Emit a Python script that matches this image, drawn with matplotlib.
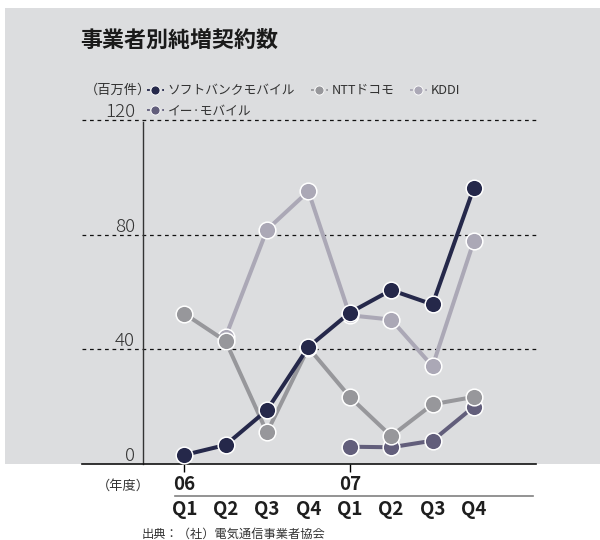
import numpy as np
import matplotlib
matplotlib.use("Agg")
import matplotlib.pyplot as plt
from matplotlib.patches import Rectangle
from matplotlib.lines import Line2D
import matplotlib.transforms as mtransforms

plt.rcParams['font.family'] = ['Noto Sans CJK JP', 'DejaVu Sans']

# ---- data (net subscriber additions per quarter) ----
quarters = ["Q1", "Q2", "Q3", "Q4", "Q1", "Q2", "Q3", "Q4"]
years = ["06", "07"]
year_start = [0, 4]
yticks = [0, 40, 80, 120]

series_names = ["ソフトバンクモバイル", "NTTドコモ", "KDDI", "イー·モバイル"]
softbank = [3.0, 6.5, 18.7, 40.7, 52.7, 60.6, 55.6, 96.4]
docomo = [52.4, 42.8, 10.9, 40.5, 23.3, 9.6, 20.7, 23.3]
kddi = [np.nan, 44.3, 81.7, 95.1, 51.8, 50.3, 34.0, 77.8]
emobile = [np.nan, np.nan, np.nan, np.nan, 5.9, 5.7, 8.0, 19.9]

colors = {
    "softbank": "#25284a",
    "docomo": "#97979b",
    "kddi": "#aba8b6",
    "emobile": "#625e7b",
}

W, H = 600, 540
fig = plt.figure(figsize=(W / 100, H / 100), dpi=100)
fig.patch.set_facecolor("white")


def fx(px):
    return px / W


def fy(py):
    return 1 - py / H


# grey backdrop panel
fig.patches.append(Rectangle((fx(5), fy(463.5)), fx(600) - fx(5), fy(8) - fy(463.5),
                             transform=fig.transFigure, facecolor="#dcdddf",
                             edgecolor="none", zorder=-5))

# plotting area
ax_l, ax_r, ax_t, ax_b = 82, 536, 120, 463.6
ax = fig.add_axes([fx(ax_l), fy(ax_b), fx(ax_r) - fx(ax_l), fy(ax_t) - fy(ax_b)])
ax.set_zorder(2)
ax.set_facecolor("none")
ax.set_xlim(-2.47, 8.50)
ax.set_ylim(0, 120)
for s in ["top", "right", "left"]:
    ax.spines[s].set_visible(False)
ax.spines["bottom"].set_color("#111111")
ax.spines["bottom"].set_linewidth(1.2)

# dotted gridlines
for v in yticks[1:]:
    ax.axhline(v, color="#111111", lw=0.9, ls=(0, (3, 3)), zorder=1, clip_on=False)

# vertical value axis
ax.plot([-1, -1], [0, 119.3], color="#333333", lw=1.0, zorder=1, clip_on=False)

# value labels
lab_tr = mtransforms.offset_copy(ax.transData, fig=fig, x=0, y=2.6, units="dots")
for v in yticks:
    ax.text(-1.19, v, str(v), ha="right", va="baseline", fontsize=13.5,
            fontweight="light", color="#333333", transform=lab_tr)

x = np.arange(len(quarters))
order = [("emobile", emobile), ("kddi", kddi), ("docomo", docomo), ("softbank", softbank)]
for z, (key, vals) in enumerate(order):
    ax.plot(x, vals, color=colors[key], lw=2.9, marker="o", ms=12,
            mfc=colors[key], mec="white", mew=1.1, zorder=3 + z, clip_on=False)

# x ticks at fiscal year starts
ax.set_xticks(year_start)
ax.set_xticklabels([])
ax.tick_params(axis="x", length=6, width=1.0, direction="out")
ticks = ax.xaxis.get_major_ticks()
ticks[0].tick1line.set_color("#222222")
ticks[1].tick1line.set_color("#888888")
ax.tick_params(axis="y", left=False, labelleft=False)

xt = ax.get_xaxis_transform()
for xs, yr in zip(year_start, years):
    ax.text(xs, -0.060, yr, transform=xt, ha="center", va="center",
            fontsize=13.5, fontweight="bold", color="#1e1e1e")
for xi, q in zip(x, quarters):
    ax.text(xi, -0.133, q, transform=xt, ha="center", va="center",
            fontsize=13.5, fontweight="bold", color="#1e1e1e")
ax.plot([-0.225, 8.42], [-0.0934, -0.0934], transform=xt, color="#808080",
        lw=1.2, clip_on=False)
ax.text(-1.48, -0.065, "（年度）", transform=xt, ha="center", va="center",
        fontsize=9.5, color="#333333")

# title, unit and source
fig.text(fx(80), fy(40), "事業者別純増契約数", ha="left", va="center",
         fontsize=15.8, fontweight="bold", color="#1a1a1a")
fig.text(fx(85), fy(90.7), "（百万件）", ha="left", va="center",
         fontsize=9.5, color="#333333")
fig.text(fx(142), fy(534), "出典：（社）電気通信事業者協会", ha="left", va="center",
         fontsize=8.8, color="#333333")

# legend: three entries on the first row, one below
def handle(c):
    return Line2D([], [], color=c, lw=1.3, ls=(0, (1.6, 1.2)), marker="o", ms=6.5,
                  mfc=c, mec="white", mew=0.6)


hs = [handle(colors["softbank"]), handle(colors["emobile"]),
      handle(colors["docomo"]), handle(colors["kddi"])]
ls = [series_names[0], series_names[3], series_names[1], series_names[2]]
leg = fig.legend(hs, ls, loc="upper left", bbox_to_anchor=(fx(147), fy(84)),
                 ncol=3, frameon=False, fontsize=9.2, handlelength=1.3,
                 handletextpad=0.3, columnspacing=1.25, labelspacing=0.62,
                 borderpad=0, borderaxespad=0)
for t in leg.get_texts():
    t.set_color("#333333")

fig.savefig("out.png", dpi=100, facecolor=fig.get_facecolor())
